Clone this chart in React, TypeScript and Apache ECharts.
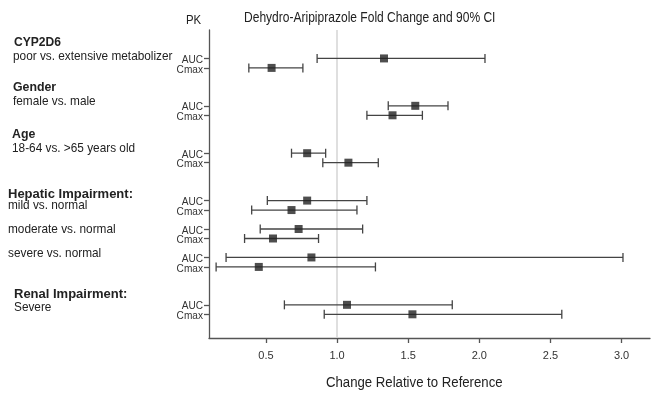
import React, { useEffect, useRef } from "react";
import * as echarts from "echarts";

// ---- data ----
const rowGroups = ["CYP2D6", "Gender", "Age", "Hepatic mild", "Hepatic moderate", "Hepatic severe", "Renal severe"];
const pkMetrics = ["AUC", "Cmax"];
const foldChange = [1.33, 0.54, 1.55, 1.39, 0.79, 1.08, 0.79, 0.68, 0.73, 0.55, 0.82, 0.45, 1.07, 1.53];
const ciLower = [0.86, 0.38, 1.36, 1.21, 0.68, 0.9, 0.51, 0.4, 0.46, 0.35, 0.22, 0.15, 0.63, 0.91];
const ciUpper = [2.04, 0.76, 1.78, 1.6, 0.92, 1.29, 1.21, 1.14, 1.18, 0.87, 3.01, 1.27, 1.81, 2.58];
const xTickValues = [0.5, 1.0, 1.5, 2.0, 2.5, 3.0];

const FONT = "'Liberation Sans', Arial, sans-serif";

export default function App() {
  const ref = useRef<HTMLDivElement>(null);
  useEffect(() => {
    if (!ref.current) return;
    const chart = echarts.init(ref.current, null, { renderer: "svg" });

    const rowIds: string[] = [];
    const rowMetric: string[] = [];
    rowGroups.forEach((g) =>
      pkMetrics.forEach((m) => {
        rowIds.push(g + "|" + m);
        rowMetric.push(m);
      })
    );
    // layout: slot positions on the category axis (65 intervals)
    const rowSlot = [6, 8, 16, 18, 26, 28, 36, 38, 42, 44, 48, 50, 58, 60];
    const totalSlots = 66;
    const categories: string[] = [];
    for (let i = 0; i < totalSlots; i++) {
      const k = rowSlot.indexOf(i);
      categories.push(k >= 0 ? rowIds[k] : "gap" + i);
    }

    const scatterData = rowIds.map((id, i) => [foldChange[i], id]);
    const ciData = rowIds.map((id, i) => [ciLower[i], ciUpper[i], id]);

    const txt = (text: string, x: number, y: number, font: string, sx = 1) => ({
      type: "text",
      x,
      y,
      scaleX: sx,
      silent: true,
      style: { text, fill: "#222", font, verticalAlign: "middle", align: "left" },
    });
    const B = "bold 13px " + FONT;
    const N = "13px " + FONT;
    const nsx = 0.91;
    const GRID_LEFT = 209;

    chart.setOption({
      animation: false,
      grid: { left: GRID_LEFT, right: 7, top: 30, bottom: 56 },
      xAxis: {
        type: "value",
        min: 0.1,
        max: 3.2,
        axisLine: { show: true, lineStyle: { color: "#555", width: 1.3 } },
        axisTick: { show: true, length: 5, customValues: xTickValues, lineStyle: { color: "#555", width: 1.3 } },
        axisLabel: {
          customValues: xTickValues,
          formatter: (v: number) => v.toFixed(1),
          color: "#333",
          fontSize: 11,
          fontFamily: FONT,
          margin: 11,
        },
        splitLine: { show: false },
      },
      yAxis: {
        type: "category",
        inverse: true,
        boundaryGap: false,
        data: categories,
        axisLine: { show: true, lineStyle: { color: "#555", width: 1.3 } },
        axisTick: {
          show: true,
          length: 5,
          interval: (_i: number, v: string) => !v.startsWith("gap"),
          lineStyle: { color: "#555", width: 1.3 },
        },
        axisLabel: { show: false },
        splitLine: { show: false },
      },
      series: [
        {
          type: "custom",
          data: ciData,
          encode: { x: [0, 1], y: 2 },
          clip: false,
          renderItem: (params: any, api: any) => {
            const p0 = api.coord([api.value(0), api.value(2)]);
            const p1 = api.coord([api.value(1), api.value(2)]);
            const h = 4.5;
            const style = { stroke: "#444", lineWidth: 1.3 };
            return {
              type: "group",
              children: [
                { type: "line", shape: { x1: p0[0], y1: p0[1], x2: p1[0], y2: p1[1] }, style },
                { type: "line", shape: { x1: p0[0], y1: p0[1] - h, x2: p0[0], y2: p0[1] + h }, style },
                { type: "line", shape: { x1: p1[0], y1: p1[1] - h, x2: p1[0], y2: p1[1] + h }, style },
                {
                  type: "text",
                  x: GRID_LEFT - 6,
                  y: p0[1] + 0.5,
                  scaleX: 0.92,
                  style: {
                    text: rowMetric[params.dataIndex],
                    fill: "#333",
                    font: "11px " + FONT,
                    align: "right",
                    verticalAlign: "middle",
                  },
                },
              ],
            };
          },
          z: 2,
        },
        {
          type: "scatter",
          data: scatterData,
          symbol: "rect",
          symbolSize: 8,
          itemStyle: { color: "#222" },
          z: 3,
          markLine: {
            silent: true,
            symbol: "none",
            label: { show: false },
            lineStyle: { color: "#d4d4d4", width: 1.5, type: "solid" },
            data: [{ xAxis: 1.0 }],
            z: 1,
          },
        },
      ],
      graphic: [
        txt("Dehydro-Aripiprazole Fold Change and 90% CI", 244, 17, "14px " + FONT, 0.86),
        txt("PK", 186, 19, "12px " + FONT, 0.95),
        txt("Change Relative to Reference", 326, 382, "15px " + FONT, 0.88),
        txt("CYP2D6", 14, 42, B, 0.93),
        txt("poor vs. extensive metabolizer", 13, 56, N, nsx),
        txt("Gender", 13, 87, B, 0.95),
        txt("female vs. male", 13, 101, N, nsx),
        txt("Age", 12, 134, B, 0.95),
        txt("18-64 vs. >65 years old", 12, 148, N, nsx),
        txt("Hepatic Impairment:", 8, 193, B, 1),
        txt("mild vs. normal", 8, 205, N, nsx),
        txt("moderate vs. normal", 8, 229, N, nsx),
        txt("severe vs. normal", 8, 253, N, nsx),
        txt("Renal Impairment:", 14, 293, B, 1),
        txt("Severe", 14, 307, N, nsx),
      ],
    });
    return () => chart.dispose();
  }, []);
  return <div ref={ref} style={{ position: "fixed", left: 0, top: 0, width: 657, height: 394 }} />;
}
